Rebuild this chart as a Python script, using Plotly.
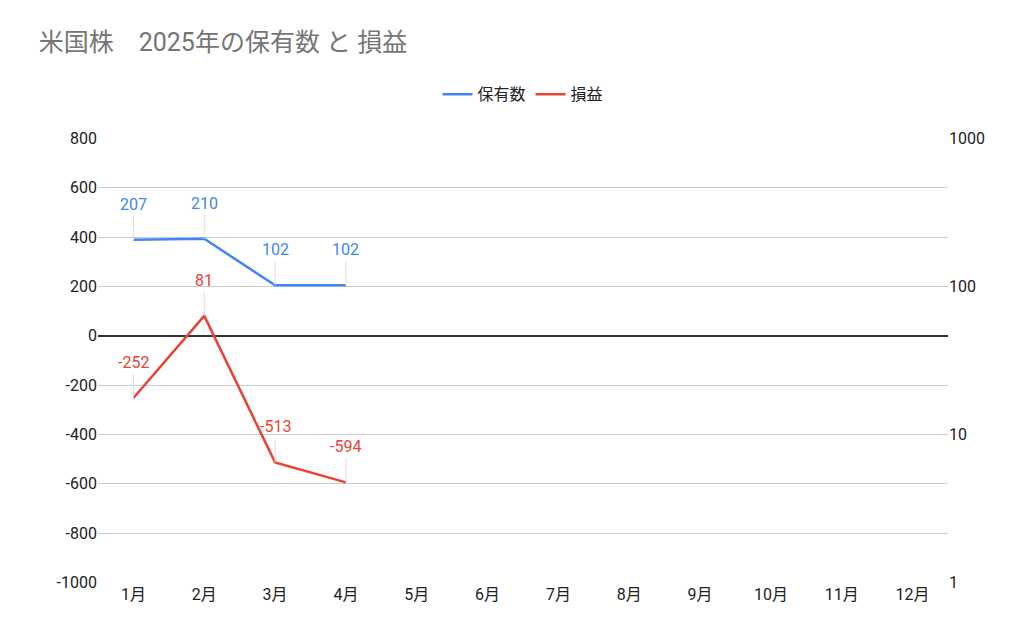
import math
import plotly.graph_objects as go

months = ["1月", "2月", "3月", "4月", "5月", "6月", "7月", "8月", "9月", "10月", "11月", "12月"]
holdings = [207, 210, 102, 102]
profit = [-252, 81, -513, -594]
left_ticks = [-1000, -800, -600, -400, -200, 0, 200, 400, 600, 800]

blue = "#4285f4"
red = "#ea4335"

fig = go.Figure()
fig.add_trace(go.Scatter(x=months[:len(holdings)], y=holdings, name="保有数", yaxis="y2",
                         mode="lines", line=dict(color=blue, width=2.5)))
fig.add_trace(go.Scatter(x=months[:len(profit)], y=profit, name="損益", yaxis="y",
                         mode="lines", line=dict(color=red, width=2.5)))

anns = []
for m, v in zip(months, holdings):
    anns.append(dict(x=m, y=math.log10(v), yref="y2", text=str(v), showarrow=True,
                     arrowhead=0, arrowcolor="#dddddd", arrowwidth=1, ax=0, ay=-24,
                     font=dict(color=blue, size=16), yanchor="bottom"))
for m, v in zip(months, profit):
    anns.append(dict(x=m, y=v, yref="y", text=str(v), showarrow=True,
                     arrowhead=0, arrowcolor="#dddddd", arrowwidth=1, ax=0, ay=-24,
                     font=dict(color=red, size=16), yanchor="bottom"))

fig.update_layout(
    width=1024, height=633,
    margin=dict(l=90, r=84, t=130, b=58),
    paper_bgcolor="white", plot_bgcolor="white",
    font=dict(family="Roboto, Noto Sans CJK JP", size=16, color="#222222"),
    title=dict(text="米国株　2025年の保有数 と 損益", x=0.03, y=0.96, xanchor="left",
               yanchor="top", font=dict(size=25, color="#757575")),
    legend=dict(orientation="h", x=0.5, xanchor="center", xref="paper",
                y=1.06, yanchor="bottom", font=dict(size=16)),
    xaxis=dict(categoryorder="array", categoryarray=months, range=[-0.5, 11.5],
               showgrid=False, ticks="", showline=False),
    yaxis=dict(range=[-1002, 802], tickvals=left_ticks, ticktext=[str(t) for t in left_ticks],
               gridcolor="#cccccc", zeroline=True,
               zerolinecolor="#333333", zerolinewidth=1.5, ticks=""),
    yaxis2=dict(type="log", range=[-0.0033, 3.0033], overlaying="y", side="right", showgrid=False,
                tickvals=[1, 10, 100, 1000], ticktext=["1", "10", "100", "1000"], ticks=""),
    annotations=anns,
)
fig.write_html("out.html")
